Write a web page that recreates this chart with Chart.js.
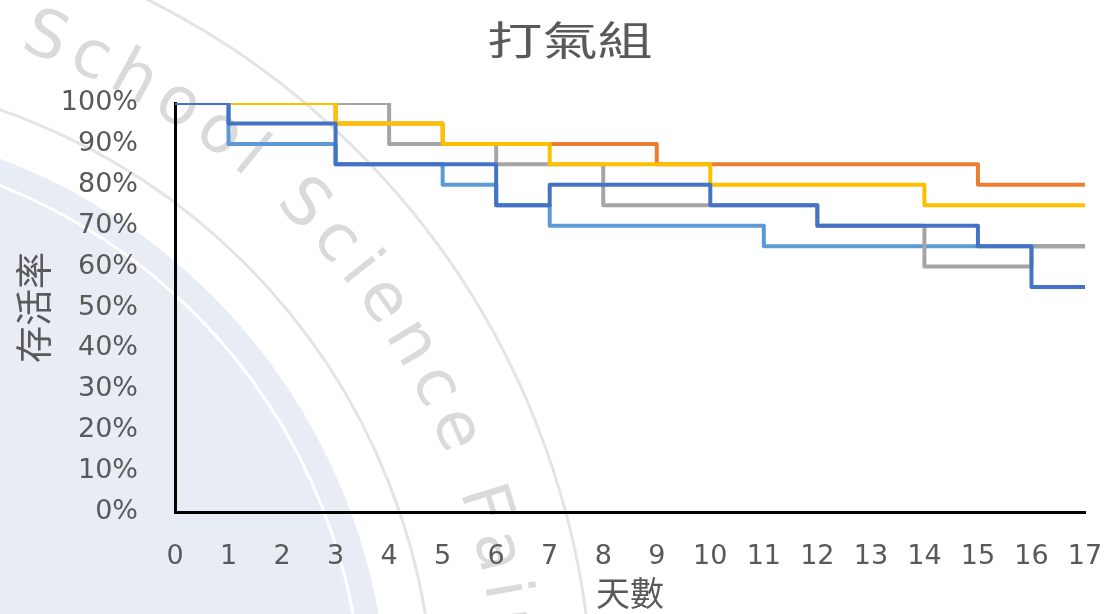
<!DOCTYPE html>
<html>
<head>
<meta charset="utf-8">
<script src="https://cdn.jsdelivr.net/npm/chart.js@4.4.1/dist/chart.umd.min.js"></script>
<style>
  html, body { margin: 0; padding: 0; background: #fff; }
</style>
</head>
<body>
<canvas id="canvas" width="1109" height="614"></canvas>
<script>
// days on the x axis
const days = [0, 1, 2, 3, 4, 5, 6, 7, 8, 9, 10, 11, 12, 13, 14, 15, 16, 17];

// survival rate (%) from each day onward
const darkBlueRates  = [100, 95, 95, 85, 85, 85, 75, 80, 80, 80, 75, 75, 70, 70, 70, 65, 55, 55];
const yellowRates    = [100, 100, 100, 95, 95, 90, 90, 85, 85, 85, 80, 80, 80, 80, 75, 75, 75, 75];
const grayRates      = [100, 100, 100, 100, 90, 90, 85, 85, 75, 75, 75, 75, 70, 70, 60, 60, 65, 65];
const orangeRates    = [100, 100, 100, 95, 95, 90, 90, 90, 90, 85, 85, 85, 85, 85, 85, 80, 80, 80];
const lightBlueRates = [100, 90, 90, 85, 85, 80, 75, 70, 70, 70, 70, 65, 65, 65, 65, 65, 65, 65];

const yTickValues = [0, 10, 20, 30, 40, 50, 60, 70, 80, 90, 100];

const titleText = "打氣組";
const textColor = "#595959";
const cjkFont = '"Noto Sans CJK TC", "Noto Sans CJK SC", sans-serif';
const tickFont = '"DejaVu Sans", sans-serif';

function toPoints(values) {
  return days.map((d, i) => ({ x: d, y: values[i] }));
}

function stepLine(label, color, values) {
  return {
    label: label,
    data: toPoints(values),
    borderColor: color,
    backgroundColor: color,
    borderWidth: 4,
    borderJoinStyle: "round",
    pointRadius: 0,
    stepped: true,
    fill: false,
  };
}

// faint "School Science Fair" background seal
const sealBackground = {
  id: "sealBackground",
  beforeDraw(chart) {
    const ctx = chart.ctx;
    const cx = -212, cy = 720;
    ctx.save();
    ctx.fillStyle = "#ffffff";
    ctx.fillRect(0, 0, chart.width, chart.height);

    ctx.beginPath();
    ctx.arc(cx, cy, 600, 0, Math.PI * 2);
    ctx.fillStyle = "#e8ecf5";
    ctx.fill();

    ctx.lineWidth = 3;
    ctx.strokeStyle = "#ffffff";
    ctx.beginPath();
    ctx.arc(cx, cy, 575, 0, Math.PI * 2);
    ctx.stroke();

    ctx.strokeStyle = "#e2e4e8";
    ctx.beginPath();
    ctx.arc(cx, cy, 646, 0, Math.PI * 2);
    ctx.stroke();
    ctx.beginPath();
    ctx.arc(cx, cy, 805, 0, Math.PI * 2);
    ctx.stroke();

    // lettering around the ring
    const text = "School Science Fair";
    const r = 727;
    const startA = -69.3 * Math.PI / 180;
    const endA = -10.3 * Math.PI / 180; // centre of the "i" in Fair
    ctx.font = "66px " + tickFont;
    ctx.fillStyle = "#dadada";
    ctx.textAlign = "center";
    ctx.textBaseline = "middle";
    const chars = [...text];
    const widths = chars.map(ch => ctx.measureText(ch).width);
    let span = 0;
    for (let i = 0; i < 17; i++) span += (widths[i] + widths[i + 1]) / 2;
    const extra = (r * (endA - startA) - span) / 17;
    let a = startA;
    chars.forEach((ch, i) => {
      if (i > 0) a += ((widths[i - 1] + widths[i]) / 2 + extra) / r;
      ctx.save();
      ctx.translate(cx + r * Math.cos(a), cy + r * Math.sin(a));
      ctx.rotate(a + Math.PI / 2);
      ctx.fillText(ch, 0, 0);
      ctx.restore();
    });
    ctx.restore();
  },
};

// wide chart title above the plot
const wideTitle = {
  id: "wideTitle",
  afterDraw(chart) {
    const ctx = chart.ctx;
    ctx.save();
    ctx.translate(570, 40);
    ctx.scale(1.38, 1);
    ctx.font = "40px " + cjkFont;
    ctx.fillStyle = textColor;
    ctx.textAlign = "center";
    ctx.textBaseline = "middle";
    ctx.fillText(titleText, 0, 0);
    ctx.restore();
  },
};

const canvas = document.querySelector("#canvas");
const chart = new Chart(canvas, {
  type: "line",
  data: {
    // first dataset is drawn on top
    datasets: [
      stepLine("1", "#4472C4", darkBlueRates),
      stepLine("2", "#FFC000", yellowRates),
      stepLine("3", "#A5A5A5", grayRates),
      stepLine("4", "#ED7D31", orangeRates),
      stepLine("5", "#5B9BD5", lightBlueRates),
    ],
  },
  plugins: [sealBackground, wideTitle],
  options: {
    responsive: false,
    animation: false,
    layout: { padding: { left: 0, right: 24, top: 103, bottom: 0 } },
    plugins: {
      legend: { display: false },
      tooltip: { enabled: false },
      title: { display: false },
    },
    scales: {
      x: {
        type: "linear",
        min: 0,
        max: 17,
        grid: { display: false },
        border: { display: true, color: "#000000", width: 3 },
        ticks: {
          stepSize: 1,
          autoSkip: false,
          maxRotation: 0,
          color: textColor,
          font: { family: tickFont, size: 27 },
          padding: 21,
        },
        title: {
          display: true,
          text: "天數",
          color: textColor,
          font: { family: cjkFont, size: 34 },
          padding: { top: 0, bottom: 1 },
        },
        afterFit: (scale) => {
          scale.height = 102;
          // the end labels fit inside the layout padding
          scale.paddingLeft = 0;
          scale.paddingRight = 0;
        },
      },
      y: {
        min: 0,
        max: 100,
        grid: { display: false },
        border: { display: true, color: "#000000", width: 3 },
        afterBuildTicks: (scale) => {
          scale.ticks = yTickValues.map(v => ({ value: v }));
        },
        ticks: {
          color: textColor,
          font: { family: tickFont, size: 27 },
          padding: 29,
          callback: (v) => v + "%",
        },
        title: {
          display: true,
          text: "存活率",
          color: textColor,
          font: { family: cjkFont, size: 37 },
          padding: { top: 12, bottom: 0 },
        },
        afterFit: (scale) => {
          scale.width = 175;
          scale.paddingTop = 0;
        },
      },
    },
  },
});
</script>
</body>
</html>
